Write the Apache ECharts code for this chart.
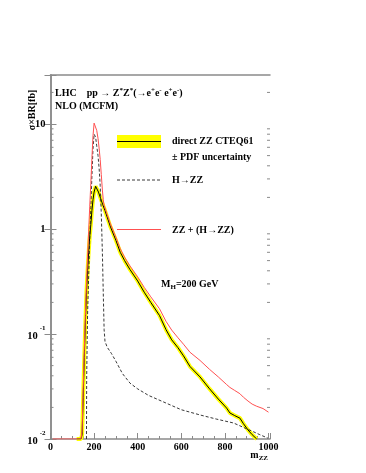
<!DOCTYPE html>
<html>
<head>
<meta charset="utf-8">
<script src="https://cdn.jsdelivr.net/npm/echarts@6/dist/echarts.min.js"></script>
<style>
html,body{margin:0;padding:0;background:#fff;}
#chart{width:366px;height:473px;}
</style>
</head>
<body>
<div id="chart"></div>
<script>
// ---- data ----
var zzMass = [120, 140, 145, 150, 155, 160, 165, 170, 175, 180, 185, 190, 195, 200, 207, 212, 220, 230, 240, 250, 275, 300, 320, 340, 365, 400, 430, 460, 500, 530, 556, 585, 610, 640, 686, 730, 770, 808, 823, 845, 869, 885, 906, 925, 946];
var zzValue = [0.01, 0.01, 0.011, 0.025, 0.06, 0.13, 0.25, 0.4, 0.6, 0.85, 1.1, 1.5, 1.9, 2.25, 2.55, 2.5, 2.25, 1.95, 1.7, 1.5, 1.05, 0.78, 0.6, 0.5, 0.41, 0.32, 0.25, 0.2, 0.15, 0.11, 0.088, 0.074, 0.062, 0.049, 0.039, 0.03, 0.024, 0.0197, 0.0177, 0.0167, 0.0158, 0.014, 0.0122, 0.011, 0.01];

var hMass = [165, 166, 170, 175, 180, 185, 190, 195, 200, 203, 207, 212, 218, 223, 228, 233, 238, 242, 246, 250, 260, 280, 300, 330, 365, 400, 450, 517, 600, 688, 760, 840, 900, 932, 960, 997];
var hValue = [0.01, 0.04, 0.15, 0.35, 0.8, 1.6, 3.2, 5.8, 8.0, 8.3, 7.5, 6.2, 5.0, 3.8, 2.6, 1.4, 0.6, 0.25, 0.11, 0.085, 0.075, 0.065, 0.055, 0.042, 0.034, 0.03, 0.026, 0.0226, 0.019, 0.0169, 0.0155, 0.0142, 0.0125, 0.0117, 0.011, 0.0102];

var sumMass = [10, 140, 145, 150, 155, 160, 165, 170, 175, 180, 185, 190, 195, 200, 203, 207, 212, 218, 223, 228, 233, 238, 242, 246, 250, 260, 275, 300, 320, 340, 365, 400, 430, 460, 500, 530, 556, 585, 610, 640, 686, 730, 770, 808, 823, 845, 869, 885, 906, 925, 946, 975, 1000];
var sumValue = [0.01, 0.01, 0.012, 0.03, 0.07, 0.15, 0.3, 0.55, 0.95, 1.65, 2.7, 4.7, 7.7, 10.2, 10.6, 10.0, 8.7, 7.3, 5.9, 4.6, 3.3, 2.35, 1.9, 1.68, 1.59, 1.37, 1.12, 0.835, 0.65, 0.54, 0.444, 0.35, 0.278, 0.226, 0.174, 0.132, 0.109, 0.092, 0.08, 0.067, 0.056, 0.046, 0.039, 0.033, 0.031, 0.029, 0.027, 0.025, 0.023, 0.0215, 0.0205, 0.0195, 0.018];

var xTicks = [0, 200, 400, 600, 800, 1000];
var yTicks = [0.01, 0.1, 1, 10];
var yMinorTicks = [0.02,0.03,0.04,0.05,0.06,0.07,0.08,0.09,0.2,0.3,0.4,0.5,0.6,0.7,0.8,0.9,2,3,4,5,6,7,8,9,20];

var legendLabels = ['direct ZZ CTEQ61', '\u00b1 PDF uncertainty', 'H\u2192ZZ', 'ZZ + (H\u2192ZZ)'];

// ---- chart ----
var X_MIN = 0, X_MAX = 1007, Y_MIN = 0.01, Y_MAX = 29.3;
var FONT = 'Liberation Serif';
function pairs(xs, ys){ return xs.map(function(x,i){ return [x, ys[i]]; }); }

var chart = echarts.init(document.getElementById('chart'), null, {renderer:'canvas'});
var frameColor = '#8a8a8a';

function yLabel(v){
  if (v >= 1) return '{b|' + Math.round(v) + '}';
  var e = Math.round(Math.log10(v));
  return '{s|' + e + '}\n{b|10}   ';
}

var option = {
  backgroundColor: '#fff',
  animation: false,
  grid: {left: 50.5, right: 96, top: 75, bottom: 34, containLabel: false},
  xAxis: [{
    type: 'value', min: X_MIN, max: X_MAX, interval: 200,
    axisLine: {lineStyle: {color: frameColor, width: 1.5}},
    axisTick: {inside: true, length: 6, lineStyle: {color: frameColor, width: 1}},
    minorTick: {show: true, splitNumber: 4, length: 3, lineStyle: {color: frameColor, width: 1}},
    splitLine: {show: false},
    axisLabel: {
      margin: 3, fontFamily: FONT, fontWeight: 'bold', fontSize: 10, color: '#000',
      showMaxLabel: false,
      formatter: function(v){ return xTicks.indexOf(v) >= 0 ? String(v) : ''; }
    }
  },{
    type: 'value', position: 'top', min: X_MIN, max: X_MAX,
    axisLine: {show: true, onZero: false, lineStyle: {color: frameColor, width: 1.5}},
    axisTick: {show: false}, axisLabel: {show: false}, splitLine: {show: false}
  }],
  yAxis: [{
    type: 'log', logBase: 10, min: Y_MIN, max: Y_MAX,
    axisLine: {show: true, lineStyle: {color: frameColor, width: 1.5}},
    axisTick: {inside: true, length: 6, lineStyle: {color: frameColor, width: 1}},
    splitLine: {show: false},
    axisLabel: {
      margin: 5, color: '#000', fontFamily: FONT, fontWeight: 'bold', fontSize: 10.5,
      formatter: function(v){ return yTicks.some(function(t){return Math.abs(t-v)/t < 1e-6;}) ? yLabel(v) : ''; },
      rich: {
        b: {fontFamily: FONT, fontWeight: 'bold', fontSize: 10.5, color: '#000', lineHeight: 10},
        s: {fontFamily: FONT, fontWeight: 'bold', fontSize: 7, color: '#000', lineHeight: 4, align: 'right'}
      }
    }
  },{
    type: 'log', logBase: 10, min: Y_MIN, max: Y_MAX, position: 'right',
    axisLine: {show: true, lineStyle: {color: frameColor, width: 1.5}},
    axisTick: {inside: true, length: 6, lineStyle: {color: frameColor, width: 1}},
    axisLabel: {show: false}, splitLine: {show: false}
  }],
  series: [
    { // minor log ticks on both vertical frame sides
      type: 'custom', silent: true, z: 1,
      data: yMinorTicks.map(function(v){ return [X_MIN, v]; }),
      renderItem: function(params, api){
        var v = api.value(1);
        var pl = api.coord([X_MIN, v]);
        var pr = api.coord([X_MAX, v]);
        var st = {stroke: frameColor, lineWidth: 1};
        return {type: 'group', children: [
          {type: 'line', shape: {x1: pl[0], y1: pl[1], x2: pl[0]+3, y2: pl[1]}, style: st},
          {type: 'line', shape: {x1: pr[0], y1: pr[1], x2: pr[0]-3, y2: pr[1]}, style: st}
        ]};
      }
    },
    { name: 'band', type: 'line', data: pairs(zzMass, zzValue), showSymbol: false,
      lineStyle: {color: '#ffff00', width: 4}, z: 2, smooth: false },
    { name: 'direct ZZ', type: 'line', data: pairs(zzMass, zzValue), showSymbol: false,
      lineStyle: {color: '#000', width: 1}, z: 3 },
    { name: 'H->ZZ', type: 'line', data: pairs(hMass, hValue), showSymbol: false,
      lineStyle: {color: '#222', width: 0.9, type: [3, 2]}, z: 4 },
    { name: 'ZZ+H', type: 'line', data: pairs(sumMass, sumValue), showSymbol: false,
      lineStyle: {color: '#ff5050', width: 1}, z: 5 }
  ],
  graphic: [
    // title texts
    {type: 'text', left: 55, top: 87, z: 10, style: {
      text: '{b|LHC    pp \u2192 Z}{s|*}{b|Z}{s|*}{b|(\u2192e}{s|+}{b|e}{s|-}{b| e}{s|+}{b|e}{s|-}{b|)}',
      rich: {
        b: {fontFamily: FONT, fontWeight: 'bold', fontSize: 10, fill: '#000', lineHeight: 12},
        s: {fontFamily: FONT, fontWeight: 'bold', fontSize: 7, fill: '#000', lineHeight: 12, padding: [0,0,6,0]}
      }}},
    {type: 'text', left: 55, top: 101, z: 10, style: {text: 'NLO (MCFM)', font: 'bold 10px ' + FONT, fill: '#000'}},
    // y-axis title
    {type: 'text', x: 32, y: 110, rotation: Math.PI/2, z: 10, style: {
      text: '\u03c3\u00d7BR[fb]', font: 'bold 10px ' + FONT, fill: '#000', align: 'center', verticalAlign: 'middle'}},
    // x-axis title
    {type: 'text', x: 268, y: 455, z: 10, style: {
      text: '{b|m}{s|ZZ}', align: 'right', verticalAlign: 'middle',
      rich: {
        b: {fontFamily: FONT, fontWeight: 'bold', fontSize: 10, fill: '#000', lineHeight: 12},
        s: {fontFamily: FONT, fontWeight: 'bold', fontSize: 7, fill: '#000', lineHeight: 12, padding: [6,0,0,0]}
      }}},
    // legend
    {type: 'rect', shape: {x: 117, y: 135, width: 44, height: 13}, style: {fill: '#ffff00'}, z: 10},
    {type: 'line', shape: {x1: 117, y1: 141.5, x2: 161, y2: 141.5}, style: {stroke: '#000', lineWidth: 1}, z: 11},
    {type: 'line', shape: {x1: 117, y1: 180, x2: 161, y2: 180}, style: {stroke: '#222', lineWidth: 0.9, lineDash: [3,2]}, z: 11},
    {type: 'line', shape: {x1: 117, y1: 229.5, x2: 161, y2: 229.5}, style: {stroke: '#ff5050', lineWidth: 1}, z: 11},
    {type: 'text', x: 172, y: 141, z: 10, style: {text: legendLabels[0], font: 'bold 10px ' + FONT, fill: '#000', verticalAlign: 'middle'}},
    {type: 'text', x: 172, y: 157, z: 10, style: {text: legendLabels[1], font: 'bold 10px ' + FONT, fill: '#000', verticalAlign: 'middle'}},
    {type: 'text', x: 172, y: 180, z: 10, style: {text: legendLabels[2], font: 'bold 10px ' + FONT, fill: '#000', verticalAlign: 'middle'}},
    {type: 'text', x: 172, y: 230, z: 10, style: {text: legendLabels[3], font: 'bold 10px ' + FONT, fill: '#000', verticalAlign: 'middle'}},
    // Higgs mass annotation
    {type: 'text', x: 161, y: 284, z: 10, style: {
      text: '{b|M}{s|H}{b|=200 GeV}', verticalAlign: 'middle',
      rich: {
        b: {fontFamily: FONT, fontWeight: 'bold', fontSize: 10, fill: '#000', lineHeight: 12},
        s: {fontFamily: FONT, fontWeight: 'bold', fontSize: 7, fill: '#000', lineHeight: 12, padding: [6,0,0,0]}
      }}}
  ]
};
chart.setOption(option);
</script>
</body>
</html>
